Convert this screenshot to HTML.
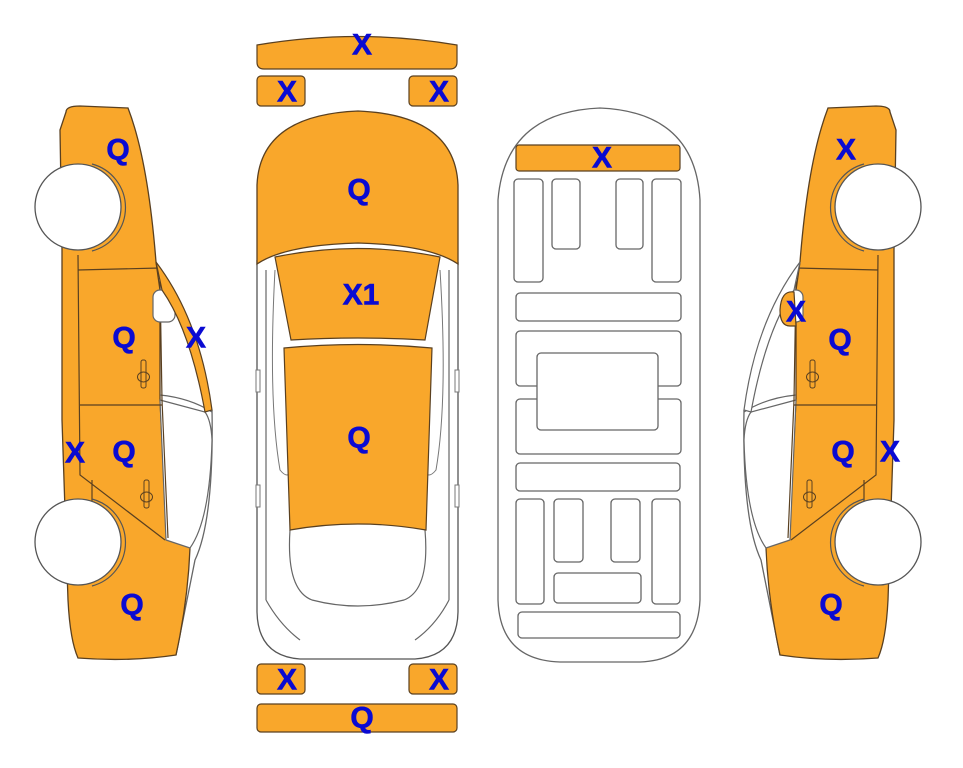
<!DOCTYPE html>
<html><head><meta charset="utf-8"><style>
html,body{margin:0;padding:0;background:#fff;}
svg{display:block}
text{font-family:"Liberation Sans",sans-serif;font-weight:bold;font-size:30px;fill:#0a0ad2;text-anchor:middle;dominant-baseline:central;stroke:#0a0ad2;stroke-width:0.6}
</style></head><body>
<svg width="963" height="768" viewBox="0 0 963 768" xmlns="http://www.w3.org/2000/svg">
<defs>
<g id="side">
  <path d="M212,410 Q214,520 195,560 Q185,610 176,655" fill="none" stroke="#666" stroke-width="1.3"/>
  <path d="M66,112 Q66,106 80,106 L128,108 Q148,160 156,262 L160,290 L160,400 L166,520 L190,548 Q188,600 176,655 Q130,662 78,658 Q70,640 68,600 L62,420 L62,250 L60,130 Z" fill="#f9a72b" stroke="#5a4020" stroke-width="1.3"/>
  <path d="M160,400 L205,412 Q211,420 212,440 Q210,520 190,548 L166,540 Z" fill="#fff" stroke="#666" stroke-width="1.2"/>
  <path d="M160,395 Q190,398 212,412" fill="none" stroke="#666" stroke-width="1.2"/>
  <path d="M78,270 L160,268 M80,405 L162,405 M78,255 L80,475 L165,540 M160,280 L162,400 L168,538 M92,480 L92,510" fill="none" stroke="#5a4020" stroke-width="1.2"/>
  <rect x="153" y="290" width="22" height="32" rx="7" fill="#fff" stroke="#666" stroke-width="1.2"/>
  <rect x="141" y="360" width="5" height="28" rx="2" fill="none" stroke="#5a4020"/>
  <ellipse cx="143.5" cy="377" rx="6" ry="5" fill="none" stroke="#5a4020"/>
  <rect x="144" y="480" width="5" height="28" rx="2" fill="none" stroke="#5a4020"/>
  <ellipse cx="146.5" cy="497" rx="6" ry="5" fill="none" stroke="#5a4020"/>
  <circle cx="78" cy="207" r="43" fill="#fff" stroke="#555" stroke-width="1.3"/>
  <path d="M92,164 A45,45 0 0 1 92,251" fill="none" stroke="#555" stroke-width="1.2"/>
  <circle cx="78" cy="542" r="43" fill="#fff" stroke="#555" stroke-width="1.3"/>
  <path d="M92,499 A45,45 0 0 1 92,586" fill="none" stroke="#555" stroke-width="1.2"/>
</g>
</defs>

<use href="#side"/>
<path d="M156,262 Q200,320 212,410 L205,412 Q190,330 162,290 Z" fill="#f9a72b" stroke="#5a4020" stroke-width="1.2"/>

<g transform="translate(956,0) scale(-1,1)">
  <use href="#side"/>
  <path d="M156,262 Q200,320 212,410 L205,412 Q190,330 162,290 Z" fill="#fff" stroke="#666" stroke-width="1.2"/>
  <path d="M162,292 Q175,290 176,310 Q176,326 166,326 L160,326 Z" fill="#f9a72b" stroke="#5a4020" stroke-width="1.2"/>
</g>

<path d="M257,260 L257,612 Q258,656 300,659 L415,659 Q457,656 458,612 L458,262" fill="#fff" stroke="#555" stroke-width="1.3"/>
<path d="M266,270 L266,600 M449,270 L449,600 M290,530 Q286,590 312,600 Q358,612 404,600 Q430,590 425,530 M266,600 Q280,625 300,640 M449,600 Q436,625 415,640" fill="none" stroke="#666" stroke-width="1.2"/>
<path d="M275,270 Q268,400 280,470 Q288,480 292,470 M440,270 Q448,400 436,470 Q428,480 424,470" fill="none" stroke="#777" stroke-width="1"/>
<rect x="256" y="370" width="4" height="22" fill="#fff" stroke="#777"/><rect x="455" y="370" width="4" height="22" fill="#fff" stroke="#777"/>
<rect x="256" y="485" width="4" height="22" fill="#fff" stroke="#777"/><rect x="455" y="485" width="4" height="22" fill="#fff" stroke="#777"/>
<path d="M257,264 L257,185 Q260,115 358,111 Q455,115 458,185 L458,264 Q430,245 358,243 Q285,245 257,264 Z" fill="#f9a72b" stroke="#5a4020" stroke-width="1.3"/>
<path d="M275,257 Q358,240 440,257 L425,340 Q358,336 291,340 Z" fill="#f9a72b" stroke="#5a4020" stroke-width="1.2"/>
<path d="M284,348 Q358,341 432,348 L426,530 Q358,518 290,530 Z" fill="#f9a72b" stroke="#5a4020" stroke-width="1.2"/>

<path d="M257,45 Q358,28 457,45 L457,62 Q457,69 450,69 L264,69 Q257,69 257,62 Z" fill="#f9a72b" stroke="#5a4020" stroke-width="1.2"/>
<rect x="257" y="76" width="48" height="30" rx="4" fill="#f9a72b" stroke="#5a4020" stroke-width="1.2"/>
<rect x="409" y="76" width="48" height="30" rx="4" fill="#f9a72b" stroke="#5a4020" stroke-width="1.2"/>
<rect x="257" y="664" width="48" height="30" rx="4" fill="#f9a72b" stroke="#5a4020" stroke-width="1.2"/>
<rect x="409" y="664" width="48" height="30" rx="4" fill="#f9a72b" stroke="#5a4020" stroke-width="1.2"/>
<rect x="257" y="704" width="200" height="28" rx="4" fill="#f9a72b" stroke="#5a4020" stroke-width="1.2"/>

<g fill="#fff" stroke="#666" stroke-width="1.3">
<path d="M498,200 Q505,112 600,108 Q695,112 700,200 L700,600 Q697,660 640,662 L560,662 Q500,660 498,600 Z"/>
<rect x="514" y="179" width="29" height="103" rx="4"/>
<rect x="552" y="179" width="28" height="70" rx="4"/>
<rect x="616" y="179" width="27" height="70" rx="4"/>
<rect x="652" y="179" width="29" height="103" rx="4"/>
<rect x="516" y="293" width="165" height="28" rx="4"/>
<rect x="516" y="331" width="165" height="55" rx="4"/>
<rect x="516" y="399" width="165" height="55" rx="4"/>
<rect x="537" y="353" width="121" height="77" rx="4"/>
<rect x="516" y="463" width="164" height="28" rx="4"/>
<rect x="516" y="499" width="28" height="105" rx="4"/>
<rect x="554" y="499" width="29" height="63" rx="4"/>
<rect x="611" y="499" width="29" height="63" rx="4"/>
<rect x="652" y="499" width="28" height="105" rx="4"/>
<rect x="554" y="573" width="87" height="30" rx="4"/>
<rect x="518" y="612" width="162" height="26" rx="4"/>
</g>
<rect x="516" y="145" width="164" height="26" rx="3" fill="#f9a72b" stroke="#5a4020" stroke-width="1.2"/>

<text x="362" y="45">X</text>
<text x="287" y="92">X</text><text x="439" y="92">X</text>
<text x="359" y="190">Q</text>
<text x="361" y="295">X1</text>
<text x="359" y="438">Q</text>
<text x="287" y="680">X</text><text x="439" y="680">X</text>
<text x="362" y="718">Q</text>
<text x="602" y="158">X</text>
<text x="118" y="150">Q</text><text x="124" y="338">Q</text><text x="196" y="338">X</text>
<text x="75" y="453">X</text><text x="124" y="452">Q</text><text x="132" y="605">Q</text>
<text x="846" y="150">X</text><text x="796" y="312">X</text><text x="840" y="340">Q</text>
<text x="843" y="452">Q</text><text x="890" y="452">X</text><text x="831" y="605">Q</text>
</svg>
</body></html>
